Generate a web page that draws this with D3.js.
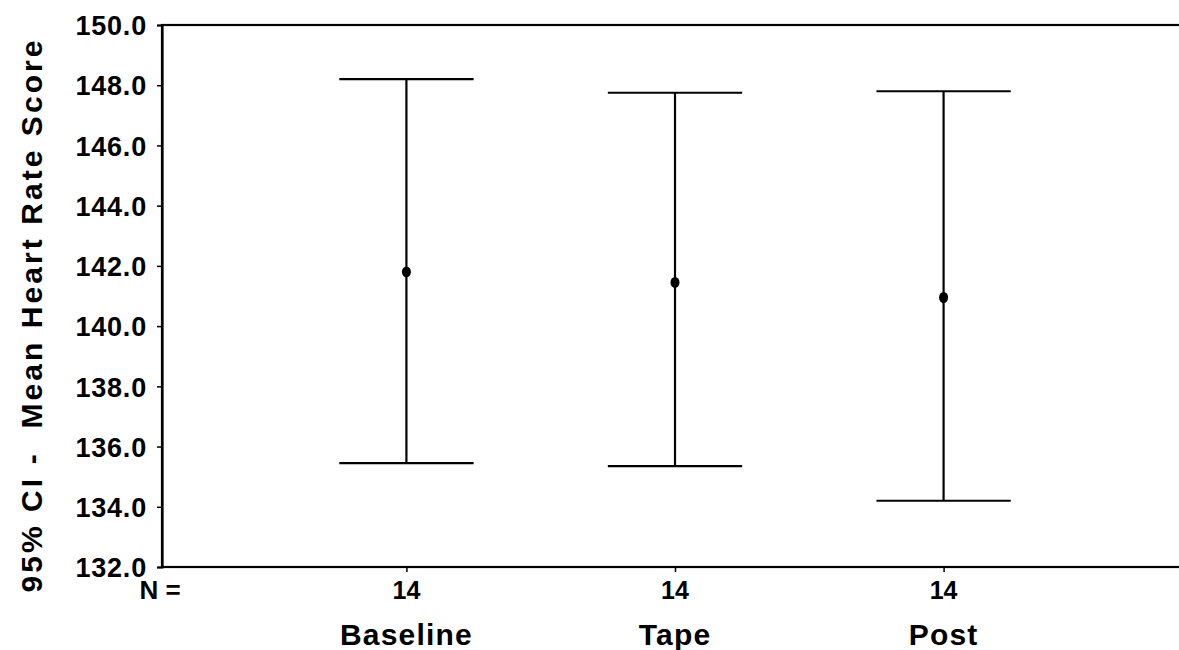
<!DOCTYPE html>
<html>
<head>
<meta charset="utf-8">
<script src="https://cdnjs.cloudflare.com/ajax/libs/d3/7.8.5/d3.min.js"></script>
<style>
	body { margin: 0; background: #fff; }
	text { font-family: 'Liberation Sans', Arial, sans-serif; font-weight: bold; fill: #000; }
</style>
</head>
<body>
<div id="chart"></div>
<script>
// groups and the 95% CI
const groups = ['Baseline', 'Tape', 'Post']
const counts = [14, 14, 14]
const means = [141.8, 141.45, 140.95]
const lowers = [135.45, 135.35, 134.2]
const uppers = [148.2, 147.75, 147.8]
const yTicks = [132, 134, 136, 138, 140, 142, 144, 146, 148, 150]

const width = 1179
const height = 650
const margin = { left: 162, top: 25, right: -9, bottom: 83 }

const svg = d3.select('#chart')
	.append('svg')
	.attr('width', width)
	.attr('height', height)

// plot extends a bit past the right edge of the window like the original
const x = d3.scalePoint()
	.domain(groups)
	.range([margin.left, width - margin.right])
	.padding(0.91)

const y = d3.scaleLinear()
	.domain([132, 150])
	.range([height - margin.bottom, margin.top])

const data = groups.map((g, i) => ({
	name: g,
	n: counts[i],
	mean: means[i],
	lo: lowers[i],
	hi: uppers[i]
}))

// frame
svg.append('rect')
	.attr('x', margin.left)
	.attr('y', margin.top)
	.attr('width', width - margin.right - margin.left)
	.attr('height', y(132) - margin.top)
	.attr('fill', 'none')
	.attr('stroke', '#000')
	.attr('stroke-width', 2.2)

// y axis
const yAxis = svg.append('g')
	.attr('transform', `translate(${margin.left},0)`)
	.call(d3.axisLeft(y).tickValues(yTicks).tickSize(5).tickPadding(10).tickFormat(d3.format('.1f')))

yAxis.select('.domain').attr('stroke-width', 2.2)
yAxis.selectAll('.tick line').attr('stroke-width', 1.5)
yAxis.selectAll('.tick text')
	.style('font-size', '27px')
	.style('letter-spacing', '0.8px')
	.attr('dy', '0.36em')

// x axis ticks only, labels drawn below
const xAxis = svg.append('g')
	.attr('transform', `translate(0,${y(132)})`)
	.call(d3.axisBottom(x).tickSize(5).tickFormat(''))

xAxis.select('.domain').remove()
xAxis.selectAll('.tick line').attr('stroke-width', 1.5)

// N row
svg.append('text')
	.attr('x', 160)
	.attr('y', 599)
	.attr('text-anchor', 'middle')
	.style('font-size', '26px')
	.text('N =')

svg.append('g')
	.selectAll('text')
	.data(data)
	.join('text')
	.attr('x', d => x(d.name))
	.attr('y', 599)
	.attr('text-anchor', 'middle')
	.style('font-size', '25px')
	.text(d => d.n)

svg.append('g')
	.selectAll('text')
	.data(data)
	.join('text')
	.attr('x', d => x(d.name))
	.attr('y', 645)
	.attr('text-anchor', 'middle')
	.style('font-size', '30px')
	.style('letter-spacing', '1.2px')
	.text(d => d.name)

// y axis title
svg.append('text')
	.attr('transform', `translate(42,${(y(132) + 30) / 2 + 18}) rotate(-90)`)
	.attr('text-anchor', 'middle')
	.attr('textLength', 552)
	.attr('lengthAdjust', 'spacing')
	.style('font-size', '30px')
	.style('white-space', 'pre')
	.text('95% CI -  Mean Heart Rate Score')

// error bars
const capHalf = x.step() * 0.25

const bars = svg.append('g')
	.selectAll('g')
	.data(data)
	.join('g')

bars.append('line')
	.attr('x1', d => x(d.name))
	.attr('x2', d => x(d.name))
	.attr('y1', d => y(d.lo))
	.attr('y2', d => y(d.hi))
	.attr('stroke', '#000')
	.attr('stroke-width', 2.2)

bars.append('line')
	.attr('x1', d => x(d.name) - capHalf)
	.attr('x2', d => x(d.name) + capHalf)
	.attr('y1', d => y(d.hi))
	.attr('y2', d => y(d.hi))
	.attr('stroke', '#000')
	.attr('stroke-width', 2.2)

bars.append('line')
	.attr('x1', d => x(d.name) - capHalf)
	.attr('x2', d => x(d.name) + capHalf)
	.attr('y1', d => y(d.lo))
	.attr('y2', d => y(d.lo))
	.attr('stroke', '#000')
	.attr('stroke-width', 2.2)

// mean marker
bars.append('ellipse')
	.attr('cx', d => x(d.name))
	.attr('cy', d => y(d.mean))
	.attr('rx', 4.5)
	.attr('ry', 5.5)
	.attr('fill', '#000')
</script>
</body>
</html>
